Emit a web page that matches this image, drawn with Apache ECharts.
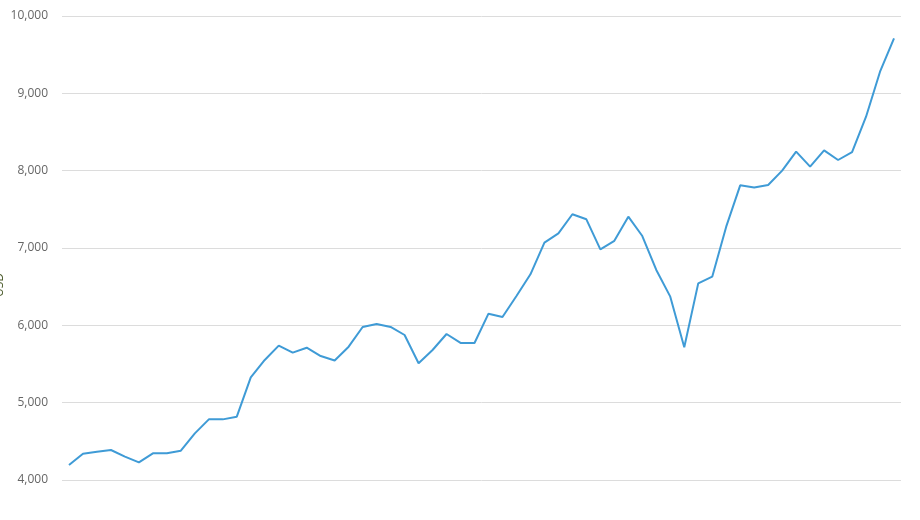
<!DOCTYPE html>
<html>
<head>
<meta charset="utf-8">
<script src="https://cdn.jsdelivr.net/npm/echarts@6/dist/echarts.min.js"></script>
<style>
html,body{margin:0;padding:0;background:#fff;}
#main{width:920px;height:520px;}
</style>
</head>
<body>
<div id="main"></div>
<script>
var categories = ['1960','1961','1962','1963','1964','1965','1966','1967','1968','1969',
'1970','1971','1972','1973','1974','1975','1976','1977','1978','1979',
'1980','1981','1982','1983','1984','1985','1986','1987','1988','1989',
'1990','1991','1992','1993','1994','1995','1996','1997','1998','1999',
'2000','2001','2002','2003','2004','2005','2006','2007','2008','2009',
'2010','2011','2012','2013','2014','2015','2016','2017','2018','2019'];
var values = [4194,4340,4366,4388,4302,4228,4345,4345,4379,4603,
4784,4784,4819,5328,5552,5737,5647,5711,5603,5545,
5724,5979,6017,5979,5875,5509,5681,5888,5772,5772,
6151,6108,6379,6660,7069,7190,7436,7371,6983,7093,
7405,7155,6716,6371,5716,6543,6629,7276,7810,7782,
7815,8000,8246,8052,8263,8138,8241,8698,9280,9711];
var yTicks = {min:4000, max:10000, interval:1000};
var axisName = 'USD';

var chart = echarts.init(document.getElementById('main'));
chart.setOption({
  animation:false,
  backgroundColor:'#ffffff',
  grid:{left:62, right:19, top:16, bottom:40, containLabel:false, outerBoundsMode:'none'},
  graphic:[{
    type:'text', x:6, y:285, rotation:Math.PI/2,
    style:{text:axisName, fill:'#4a5a2a', fontSize:12, fontFamily:'Open Sans',
      textAlign:'center', textVerticalAlign:'bottom'}
  }],
  xAxis:{
    type:'category',
    data:categories,
    boundaryGap:true,
    axisLine:{show:false},
    axisTick:{show:false},
    axisLabel:{show:false},
    splitLine:{show:false}
  },
  yAxis:{
    type:'value',
    min:yTicks.min, max:yTicks.max, interval:yTicks.interval,
    axisLine:{show:false},
    axisTick:{show:false},
    axisLabel:{color:'#666', fontSize:12, fontFamily:'Open Sans', margin:14,
      formatter:function(v){return v.toLocaleString('en-US');}},
    splitLine:{lineStyle:{color:'#dcdcdc', width:1}}
  },
  series:[{
    type:'line',
    data:values,
    showSymbol:false,
    symbol:'none',
    lineStyle:{color:'#3f9bd6', width:2},
    itemStyle:{color:'#3f9bd6'}
  }]
});
</script>
</body>
</html>
